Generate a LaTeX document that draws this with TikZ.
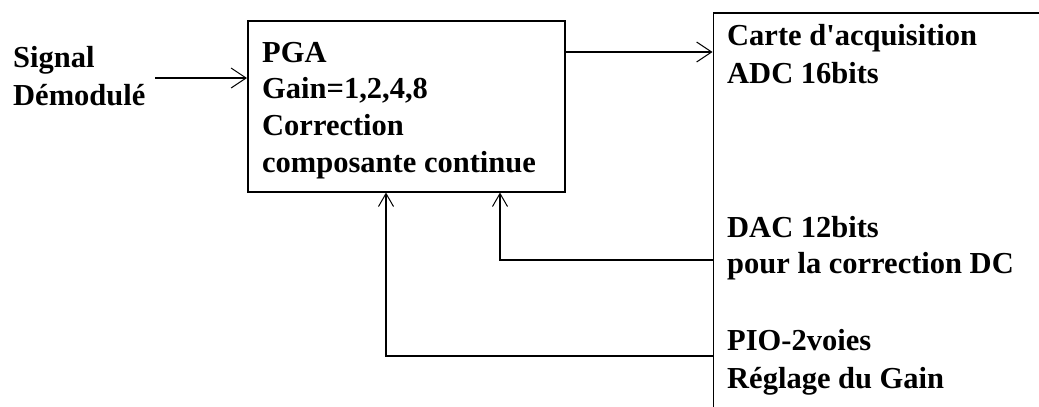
\documentclass[tikz,border=0pt]{standalone}
\usepackage{fontspec}
\setmainfont{Liberation Serif}
\usetikzlibrary{arrows.meta}
\begin{document}
\begin{tikzpicture}[x=1pt,y=-1pt,
  box/.style={draw,line width=1.5pt,inner sep=0,anchor=north west},
  lbl/.style={anchor=base west,inner sep=0,font=\fontsize{30.5}{36}\selectfont\bfseries},
  wire/.style={line width=1.5pt},
  harrow/.style={wire,-{Straight Barb[length=15pt,width=20pt,line width=1pt]}},
  varrow/.style={wire,-{Straight Barb[length=13pt,width=15pt,line width=1pt]}}]
\useasboundingbox (0,0) rectangle (1039,407);
\clip (0,0) rectangle (1039,407);
\fill[white] (0,0) rectangle (1039,407);
% boxes
\node[box,minimum width=317pt,minimum height=171pt] (pga) at (247,20) {};
\node[box,minimum width=400pt,minimum height=450pt] (acq) at (712.5,12) {};
% texts
\node[lbl] (s1) at (13,67) {Signal};
\node[lbl] (s2) at (13,105) {Démodulé};
\node[lbl] (p1) at (262,62) {PGA};
\node[lbl] (p2) at (262,98) {Gain=1,2,4,8};
\node[lbl] (p3) at (262,135) {Correction};
\node[lbl] (p4) at (262,172) {composante continue};
\node[lbl] (a1) at (727,45) {Carte d\textquotesingle acquisition};
\node[lbl] (a2) at (727,83) {ADC 16bits};
\node[lbl] (d1) at (727,237) {DAC 12bits};
\node[lbl] (d2) at (727,273) {pour la correction DC};
\node[lbl] (g1) at (727,350) {PIO-2voies};
\node[lbl] (g2) at (727,388) {Réglage du Gain};
% connectors
\coordinate (in) at (155,78);
\coordinate (out) at (600,52);
\coordinate (dac) at (500,260);
\coordinate (pio) at (386,356);
\draw[harrow] (in) -- (in -| pga.west);
\draw[harrow] (out -| pga.east) -- (out -| acq.west);
\draw[varrow] (dac -| acq.west) -| (dac |- pga.south);
\draw[varrow] (pio -| acq.west) -| (pio |- pga.south);
\end{tikzpicture}
\end{document}
